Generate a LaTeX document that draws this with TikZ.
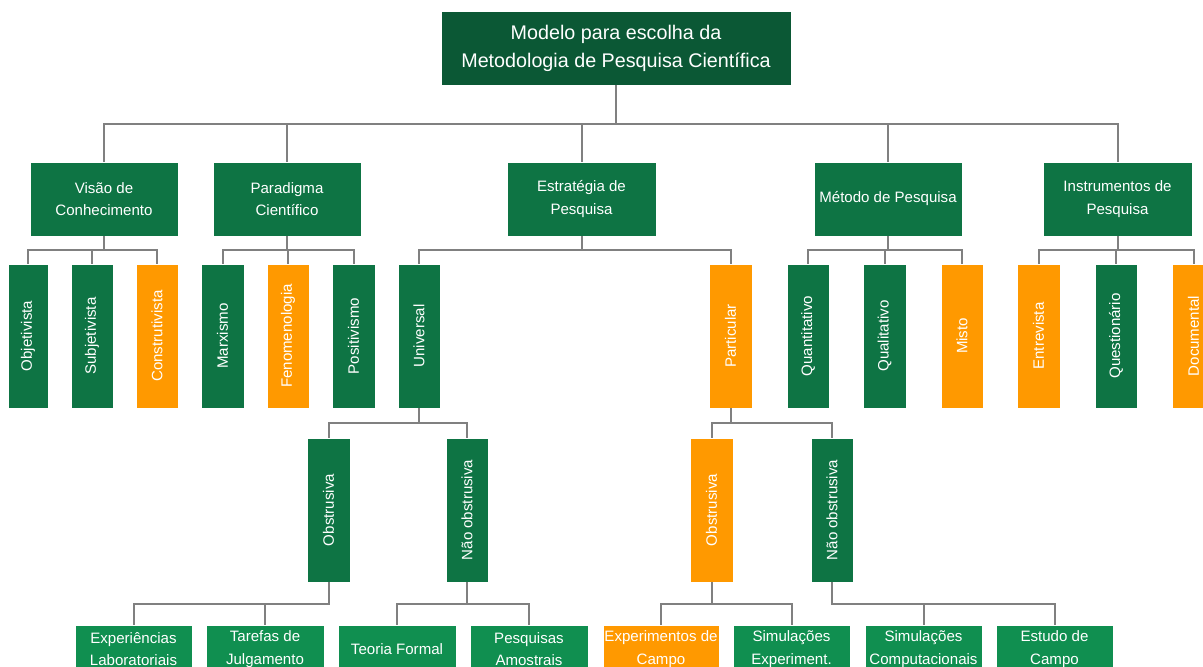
\documentclass[tikz,border=0pt]{standalone}
\usepackage{fontspec}
\usepackage{graphicx}
\setmainfont{Liberation Sans}
\usetikzlibrary{calc}

\definecolor{deepgreen}{RGB}{11,88,53}
\definecolor{midgreen}{RGB}{14,116,68}
\definecolor{leafgreen}{RGB}{16,143,80}
\definecolor{amber}{RGB}{255,153,0}
\definecolor{wire}{RGB}{128,128,128}

\tikzset{
  box/.style={rectangle, inner sep=0pt, outer sep=0pt, text=white, align=center,
    draw=white, line width=0.4pt, font=\fontsize{11.3}{16.9}\selectfont},
  head/.style={box, fill=deepgreen, font=\fontsize{14.8}{21}\selectfont},
  cat/.style={box, fill=midgreen},
  opt/.style={box, fill=midgreen},
  pick/.style={box, fill=amber},
  leaf/.style={box, fill=leafgreen},
  link/.style={draw=wire, line width=1.5pt},
  bus/.style={to path={(\tikztostart) -- ($(\tikztostart)!.5!(\tikztostart|-\tikztotarget)$) -| (\tikztotarget)}}
}

% box given by its pixel corners: name, style, x1, y1, x2, y2, text
\newcommand\bx[7]{\node[#2, minimum width={(#5-#3)*0.75pt}, minimum height={(#6-#4)*0.75pt}] (#1) at ({(#3+#5)/2},{(#4+#6)/2}) {#7};}
\newcommand\up[1]{\rotatebox{90}{#1}}

\begin{document}
\begin{tikzpicture}[x=0.75pt, y=-0.75pt]
\useasboundingbox (0,0) rectangle (1203,667);
\clip (0,0) rectangle (1203,667);

% root
\bx{top}{head}{441}{11}{791}{85}{Modelo para escolha da\\Metodologia de Pesquisa Científica}

% first level
\bx{vis}{cat}{30}{162}{178}{236}{Visão de\\Conhecimento}
\bx{par}{cat}{213}{162}{361}{236}{Paradigma\\Científico}
\bx{est}{cat}{507}{162}{656}{236}{Estratégia de\\Pesquisa}
\bx{met}{cat}{814}{162}{962}{236}{Método de Pesquisa}
\bx{ins}{cat}{1043}{162}{1192}{236}{Instrumentos de\\Pesquisa}

% second level
\bx{obj}{opt}{8}{264}{48}{408}{\up{Objetivista}}
\bx{sub}{opt}{71}{264}{113}{408}{\up{Subjetivista}}
\bx{con}{pick}{136}{264}{178}{408}{\up{Construtivista}}
\bx{mar}{opt}{201}{264}{244}{408}{\up{Marxismo}}
\bx{fen}{pick}{267}{264}{309}{408}{\up{Fenomenologia}}
\bx{pos}{opt}{332}{264}{375}{408}{\up{Positivismo}}
\bx{uni}{opt}{398}{264}{440}{408}{\up{Universal}}
\bx{part}{pick}{709}{264}{752}{408}{\up{Particular}}
\bx{quan}{opt}{787}{264}{829}{408}{\up{Quantitativo}}
\bx{qual}{opt}{863}{264}{906}{408}{\up{Qualitativo}}
\bx{mis}{pick}{941}{264}{983}{408}{\up{Misto}}
\bx{ent}{pick}{1017}{264}{1060}{408}{\up{Entrevista}}
\bx{que}{opt}{1095}{264}{1137}{408}{\up{Questionário}}
\bx{doc}{pick}{1172}{264}{1215}{408}{\up{Documental}}

% third level
\bx{obsU}{opt}{307}{438}{350}{582}{\up{Obstrusiva}}
\bx{nobU}{opt}{446}{438}{488}{582}{\up{Não obstrusiva}}
\bx{obsP}{pick}{690}{438}{733}{582}{\up{Obstrusiva}}
\bx{nobP}{opt}{811}{438}{853}{582}{\up{Não obstrusiva}}

% fourth level
\bx{exl}{leaf}{75}{625}{192}{673}{Experiências\\Laboratoriais}
\bx{tar}{leaf}{206}{625}{324}{673}{Tarefas de\\Julgamento}
\bx{teo}{leaf}{338}{625}{456}{673}{Teoria Formal}
\bx{pam}{leaf}{470}{625}{588}{673}{Pesquisas\\Amostrais}
\bx{exc}{pick}{603}{625}{719}{673}{Experimentos de\\Campo}
\bx{sie}{leaf}{733}{625}{850}{673}{Simulações\\Experiment.}
\bx{sic}{leaf}{865}{625}{982}{673}{Simulações\\Computacionais}
\bx{esc}{leaf}{996}{625}{1113}{673}{Estudo de\\Campo}

% connectors
\foreach \c in {vis,par,est,met,ins} \draw[link] (top.south) to[bus] (\c.north);
\foreach \c in {obj,sub,con} \draw[link] (vis.south) to[bus] (\c.north);
\foreach \c in {mar,fen,pos} \draw[link] (par.south) to[bus] (\c.north);
\foreach \c in {uni,part} \draw[link] (est.south) to[bus] (\c.north);
\foreach \c in {quan,qual,mis} \draw[link] (met.south) to[bus] (\c.north);
\foreach \c in {ent,que,doc} \draw[link] (ins.south) to[bus] (\c.north);
\foreach \c in {obsU,nobU} \draw[link] (uni.south) to[bus] (\c.north);
\foreach \c in {obsP,nobP} \draw[link] (part.south) to[bus] (\c.north);
\foreach \c in {exl,tar} \draw[link] (obsU.south) to[bus] (\c.north);
\foreach \c in {teo,pam} \draw[link] (nobU.south) to[bus] (\c.north);
\foreach \c in {exc,sie} \draw[link] (obsP.south) to[bus] (\c.north);
\foreach \c in {sic,esc} \draw[link] (nobP.south) to[bus] (\c.north);
\end{tikzpicture}
\end{document}
